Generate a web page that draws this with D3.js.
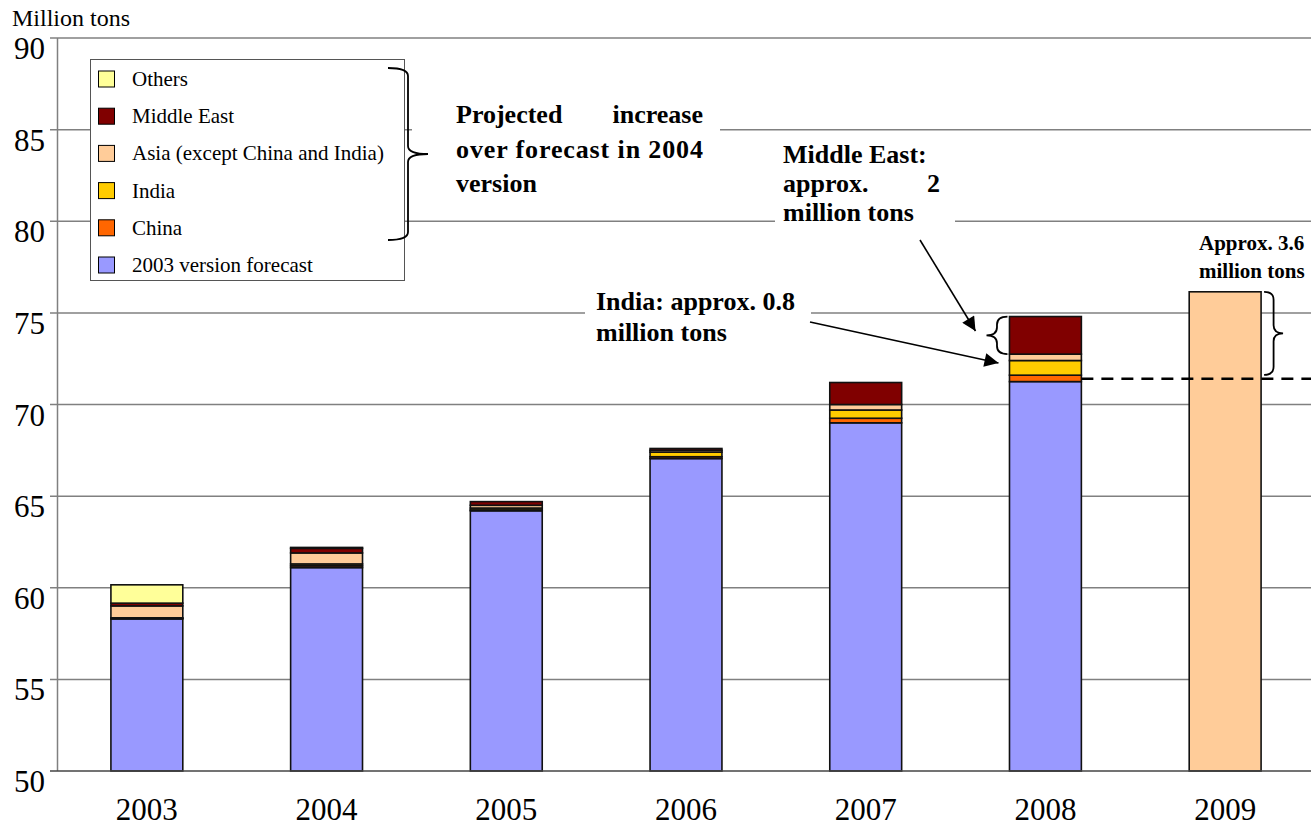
<!DOCTYPE html>
<html>
<head>
<meta charset="utf-8">
<script src="https://cdn.jsdelivr.net/npm/d3@7"></script>
<style>
  html, body { margin: 0; padding: 0; background: #fff; }
  svg { display: block; }
  text { font-family: 'Liberation Serif', 'Times New Roman', serif; }
</style>
</head>
<body>
<svg id="chart" width="1311" height="828"></svg>
<script>
// Years on the category axis
const years = ["2003", "2004", "2005", "2006", "2007", "2008", "2009"];
// Stacked components (million tons), 2003–2008
const forecast2003 = [58.3, 61.1, 64.2, 67.05, 69.0, 71.25];
const china        = [0.03, 0.1, 0.05, 0.1, 0.25, 0.35];
const india        = [0.03, 0.1, 0.1, 0.25, 0.45, 0.8];
const asiaOther    = [0.65, 0.6, 0.15, 0.1, 0.3, 0.35];
const middleEast   = [0.15, 0.25, 0.2, 0.1, 1.2, 2.05];
const others       = [1.0, 0.05, 0, 0, 0, 0];
// 2009 projection (single bar) and reference level
const projected2009 = 76.15;
const baselineLevel = 71.4;
// Axis ticks
const yTicks = [50, 55, 60, 65, 70, 75, 80, 85, 90];

const seriesNames = ["2003 version forecast", "China", "India", "Asia (except China and India)", "Middle East", "Others"];
const seriesValues = [forecast2003, china, india, asiaOther, middleEast, others];
const seriesColors = ["#9999FF", "#FF6600", "#FFCC00", "#FFCC99", "#800000", "#FFFF99"];

const svg = d3.select("#chart");

const y = d3.scaleLinear().domain([50, 90]).range([771, 38]);
const x = d3.scaleBand().domain(years).range([57, 1315]).paddingInner(0.6).paddingOuter(0.3);

// Gridlines with tick stubs to the left of the axis
svg.append("g").selectAll("line").data(yTicks.filter(t => t > 50)).join("line")
  .attr("x1", 50).attr("x2", 1311)
  .attr("y1", d => y(d)).attr("y2", d => y(d))
  .attr("stroke", "#808080").attr("stroke-width", 1.5);

// Y axis labels (set just below their gridline)
svg.append("g").selectAll("text").data(yTicks).join("text")
  .attr("x", 45).attr("y", d => y(d) + 21)
  .attr("text-anchor", "end")
  .attr("font-size", 31)
  .attr("fill", "#000")
  .text(d => d);

svg.append("text").attr("x", 12).attr("y", 26)
  .attr("font-size", 24).text("Million tons");

// Left axis line
svg.append("line").attr("x1", 57.5).attr("x2", 57.5).attr("y1", y(90)).attr("y2", y(50))
  .attr("stroke", "#808080").attr("stroke-width", 1.5);

// Stacked bars
const stackData = years.slice(0, 6).map((yr, i) => {
  const row = { year: yr };
  seriesNames.forEach((n, k) => row[n] = seriesValues[k][i]);
  return row;
});
const layers = d3.stack().keys(seriesNames)(stackData);
layers.forEach((layer, k) => {
  svg.append("g").selectAll("rect").data(layer).join("rect")
    .attr("x", d => x(d.data.year))
    .attr("width", x.bandwidth())
    .attr("y", d => y(d[1]))
    .attr("height", d => k === 0 ? y(50) - y(d[1]) : Math.max(0, y(d[0]) - y(d[1])))
    .attr("fill", seriesColors[k])
    .attr("stroke", "#111").attr("stroke-width", 1.6);
});

// 2009 projection bar
svg.append("rect")
  .attr("x", x("2009")).attr("width", x.bandwidth())
  .attr("y", y(projected2009)).attr("height", y(50) - y(projected2009))
  .attr("fill", "#FFCC99").attr("stroke", "#111").attr("stroke-width", 1.6);

// Bottom axis line
svg.append("line").attr("x1", 50).attr("x2", 1311).attr("y1", y(50)).attr("y2", y(50))
  .attr("stroke", "#444").attr("stroke-width", 1.5);

// X labels
svg.append("g").selectAll("text").data(years).join("text")
  .attr("x", d => x(d) + x.bandwidth() / 2).attr("y", 820)
  .attr("text-anchor", "middle").attr("font-size", 31).text(d => d);

// Dashed reference line from the 2008 bar
const x08 = x("2008"), bw = x.bandwidth();
svg.append("line")
  .attr("x1", x08 + bw).attr("x2", 1311)
  .attr("y1", y(baselineLevel)).attr("y2", y(baselineLevel))
  .attr("stroke", "#000").attr("stroke-width", 2.5).attr("stroke-dasharray", "12,8");

// Legend
const legend = svg.append("g");
legend.append("rect").attr("x", 90.5).attr("y", 59.5).attr("width", 314).attr("height", 221)
  .attr("fill", "#fff").attr("stroke", "#555").attr("stroke-width", 1);
const legendOrder = [5, 4, 3, 2, 1, 0];
legendOrder.forEach((k, i) => {
  const cy = 79 + i * 37.2;
  legend.append("rect").attr("x", 98.5).attr("y", cy - 8).attr("width", 16).attr("height", 16)
    .attr("fill", seriesColors[k]).attr("stroke", "#000").attr("stroke-width", 1);
  legend.append("text").attr("x", 132).attr("y", cy + 7).attr("font-size", 21).text(seriesNames[k]);
});

// Curly brace path: vertical brace from y1 to y2, hooks at x0, tip offset w
function brace(x0, y1, y2, w) {
  const ym = (y1 + y2) / 2, xs = x0 + w * 0.5, q = 8;
  return `M${x0},${y1} Q${xs},${y1} ${xs},${y1 + q} L${xs},${ym - q} Q${xs},${ym} ${x0 + w},${ym}` +
         ` Q${xs},${ym} ${xs},${ym + q} L${xs},${y2 - q} Q${xs},${y2} ${x0},${y2}`;
}

// White panels behind annotation text
const panels = [
  [412, 96, 308, 108],
  [775, 136, 180, 92],
  [585, 284, 226, 60],
  [1190, 227, 121, 52]
];
svg.append("g").selectAll("rect").data(panels).join("rect")
  .attr("x", d => d[0]).attr("y", d => d[1]).attr("width", d => d[2]).attr("height", d => d[3])
  .attr("fill", "#fff");

const braceStyle = g => g.attr("fill", "none").attr("stroke", "#000").attr("stroke-width", 1.8);
svg.append("path").attr("d", brace(388, 68, 240, 40)).call(braceStyle);
svg.append("path").attr("d", brace(x08 - 2, y(74.8), y(72.75), -21)).call(braceStyle);
svg.append("path").attr("d", brace(x("2009") + bw + 3, y(projected2009), y(baselineLevel) - 4, 19)).call(braceStyle);

// Annotation text
const bold = (xx, yy, t, size, anchor, len) => {
  const el = svg.append("text").attr("x", xx).attr("y", yy).attr("font-size", size)
    .attr("font-weight", "bold").attr("text-anchor", anchor || "start").text(t);
  if (len) el.attr("textLength", len).attr("lengthAdjust", "spacing");
  return el;
};
bold(456, 123, "Projected", 26);
bold(703, 123, "increase", 26, "end");
bold(456, 158, "over forecast in 2004", 26, "start", 247);
bold(456, 192, "version", 26);

bold(783, 163, "Middle East:", 26);
bold(783, 192, "approx.", 26);
bold(940, 192, "2", 26, "end");
bold(783, 221, "million tons", 26);

bold(596, 310, "India: approx. 0.8", 26);
bold(596, 341, "million tons", 26);

bold(1199, 250, "Approx. 3.6", 21);
bold(1199, 278, "million tons", 21);

// Arrows
svg.append("defs").append("marker")
  .attr("id", "arrowhead").attr("viewBox", "0 0 10 10").attr("refX", 10).attr("refY", 5)
  .attr("markerWidth", 20).attr("markerHeight", 14).attr("markerUnits", "userSpaceOnUse")
  .attr("orient", "auto")
  .append("path").attr("d", "M0,0 L10,5 L0,10 Z").attr("fill", "#000");

svg.append("line").attr("x1", 920).attr("y1", 240).attr("x2", x08 - 34).attr("y2", 331)
  .attr("stroke", "#000").attr("stroke-width", 1.6).attr("marker-end", "url(#arrowhead)");
svg.append("line").attr("x1", 810).attr("y1", 322).attr("x2", x08 - 11).attr("y2", 363)
  .attr("stroke", "#000").attr("stroke-width", 1.6).attr("marker-end", "url(#arrowhead)");
</script>
</body>
</html>
